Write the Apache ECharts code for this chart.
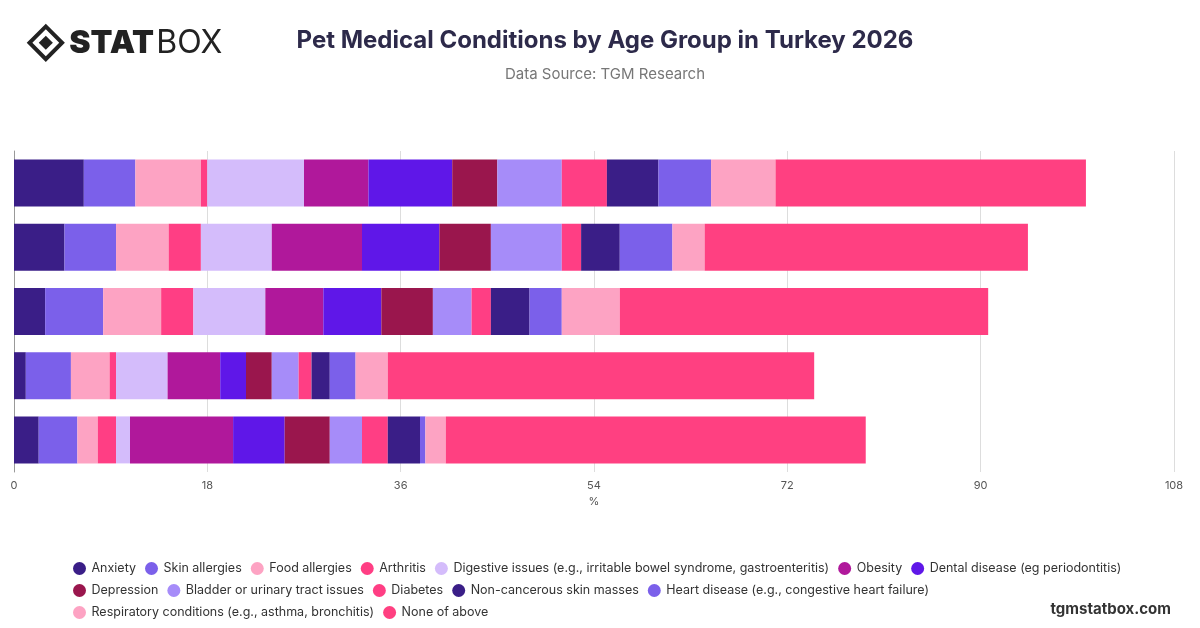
<!DOCTYPE html>
<html><head><meta charset="utf-8">
<script src="https://cdn.jsdelivr.net/npm/echarts@6/dist/echarts.min.js"></script>
<style>body{margin:0;background:#fff}#c{width:1200px;height:628px}</style>
</head><body><div id="c"></div>
<script>
const categories = ["Under 1 year","1-3 years","4-7 years","8-10 years","Over 10 years"];
const seriesNames = ["Anxiety","Skin allergies","Food allergies","Arthritis","Digestive issues (e.g., irritable bowel syndrome, gastroenteritis)","Obesity","Dental disease (eg periodontitis)","Depression","Bladder or urinary tract issues","Diabetes","Non-cancerous skin masses","Heart disease (e.g., congestive heart failure)","Respiratory conditions (e.g., asthma, bronchitis)","None of above"];
const anxiety = [6.5,4.7,2.9,1.1,2.3];
const skinAllergies = [4.8,4.8,5.4,4.2,3.6];
const foodAllergies = [6.1,4.9,5.4,3.6,1.9];
const arthritis = [0.6,3.0,3.0,0.6,1.7];
const digestive = [9.0,6.6,6.7,4.8,1.3];
const obesity = [6.0,8.4,5.4,4.9,9.6];
const dental = [7.8,7.2,5.4,2.4,4.8];
const depression = [4.2,4.8,4.8,2.4,4.2];
const bladder = [6.0,6.6,3.6,2.5,3.0];
const diabetes = [4.2,1.8,1.8,1.2,2.4];
const skinMasses = [4.8,3.6,3.6,1.7,3.0];
const heart = [4.9,4.9,3.0,2.4,0.5];
const respiratory = [6.0,3.0,5.4,3.0,1.9];
const noneOfAbove = [28.9,30.1,34.3,39.7,39.1];
const seriesData = [anxiety,skinAllergies,foodAllergies,arthritis,digestive,obesity,dental,depression,bladder,diabetes,skinMasses,heart,respiratory,noneOfAbove];
const colors = ["#3a1e87","#7b60ea","#fda3c3","#ff3e84","#d4bcfb","#b0189b","#5f17e8","#9a164d","#a68cf9","#ff3e84","#3a1e87","#7b60ea","#fda3c3","#ff4081"];
const xTicks = [0,18,36,54,72,90,108];

const chart = echarts.init(document.getElementById('c'));
chart.setOption({
  animation:false,
  color: colors,
  title:[
    {text:'Pet Medical Conditions by Age Group in Turkey 2026',left:600,top:24,textAlign:'center',textStyle:{fontFamily:'Inter',fontSize:24,fontWeight:'bold',color:'#2d2a4a'}},
    {text:'Data Source: TGM Research',left:600,top:62,textAlign:'center',textStyle:{fontFamily:'Inter',fontSize:15,fontWeight:'normal',color:'#777'}},
    {text:'tgmstatbox.com',right:24,top:597,textStyle:{fontFamily:'Inter',fontSize:15,fontWeight:'bold',color:'#333'}}
  ],
  graphic:[
    {type:'group',left:26,top:23,children:[
      {type:'rect',shape:{x:4,y:4,width:23,height:23},rotation:Math.PI/4,originX:15.5,originY:15.5,style:{fill:'none',stroke:'#222',lineWidth:4}},
      {type:'rect',shape:{x:10.5,y:10.5,width:10,height:10},rotation:Math.PI/4,originX:15.5,originY:15.5,style:{fill:'#222'}},
      {type:'text',style:{x:39,y:0,text:'STAT',font:'900 32px Inter',fill:'#222'}},
      {type:'text',style:{x:126,y:0,text:'BOX',font:'400 32px Inter',fill:'#222'}}
    ]}
  ],
  legend:{bottom:4,left:68,right:60,itemWidth:14,itemHeight:13,itemGap:9,icon:'circle',
    textStyle:{fontFamily:'Inter',fontSize:12.5,color:'#333'},data:seriesNames},
  grid:{left:14,right:26,top:151,bottom:156,containLabel:false},
  xAxis:{type:'value',min:0,max:108,interval:18,name:'%',nameLocation:'middle',nameGap:22,
    nameTextStyle:{fontFamily:'Inter',fontSize:11,color:'#555'},
    axisLabel:{fontFamily:'Inter',fontSize:11,color:'#555'},
    splitLine:{lineStyle:{color:'#ddd'}}},
  yAxis:{type:'category',data:categories,inverse:true,axisLabel:{show:false},axisTick:{show:false},
    axisLine:{show:true,lineStyle:{color:'#999'}}},
  series: seriesNames.map((n,i)=>({name:n,type:'bar',stack:'t',barWidth:47,data:seriesData[i],
    itemStyle:{color:colors[i]}}))
});
</script></body></html>
